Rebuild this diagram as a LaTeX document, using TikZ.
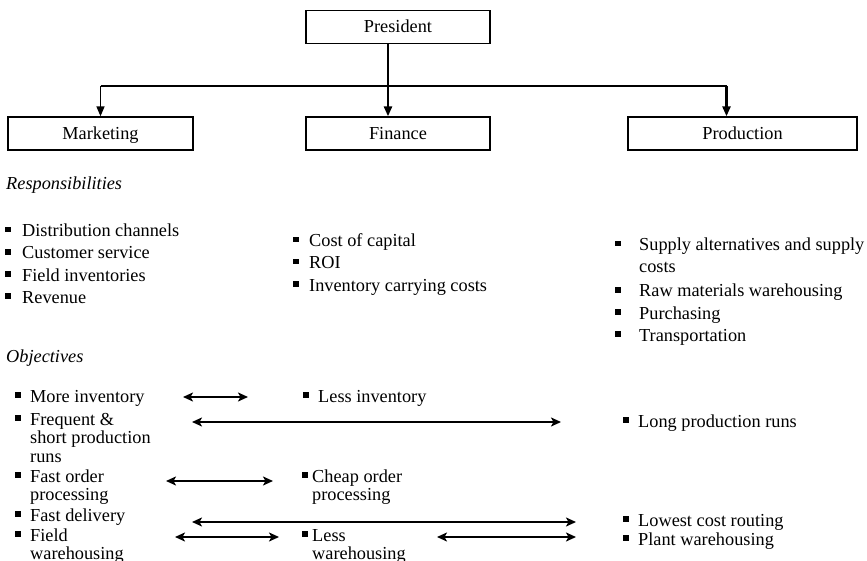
\documentclass[tikz,border=0pt]{standalone}
\usepackage{fontspec}
\setmainfont{Liberation Serif}
\usetikzlibrary{arrows.meta}

% bullet square, gap, then the item text (one or more lines)
\newcommand\bitem[2]{\rule[4.5pt]{5.5pt}{5.5pt}\hspace{#1}\begin{tabular}[t]{@{}l@{}}#2\end{tabular}}

\tikzset{
  unit/.style={draw, line width=1.3pt, inner sep=0pt, minimum height=33pt,
    text height=12pt, text depth=0pt,
    font=\fontsize{18.3}{22}\selectfont},
  tree/.style={line width=2.4pt},
  treehead/.style={-{Triangle[length=10pt,width=8pt]}},
  heading/.style={anchor=base west, inner sep=0pt,
    font=\fontsize{18.3}{22}\selectfont\itshape},
  resp/.style={anchor=base west, inner sep=0pt,
    font=\fontsize{18.3}{22}\selectfont},
  obj/.style={anchor=base west, inner sep=0pt,
    font=\fontsize{18.3}{18.5}\selectfont},
  tradeoff/.style={line width=2.4pt,
    {Stealth[length=10pt,width=9pt,inset=2.5pt]}-{Stealth[length=10pt,width=9pt,inset=2.5pt]}},
}

\begin{document}
\begin{tikzpicture}[x=1pt,y=-1pt]
\useasboundingbox (0,0) rectangle (867,561);

% organisation chart
\node[unit, minimum width=184pt] (pres) at (398,27)    {President};
\node[unit, minimum width=185pt] (mkt)  at (100.5,133.5) {Marketing};
\node[unit, minimum width=184pt] (fin)  at (398,133.5)   {Finance};
\node[unit, minimum width=229pt] (prod) at (742.5,133.5) {Production};

\coordinate (bus) at (398,86);
\coordinate (trunk) at ([xshift=-10pt]pres.south);
\coordinate (finin) at ([xshift=-10pt]fin.north);
\coordinate (prodin) at ([xshift=-16pt]prod.north);

\draw[tree, treehead] (trunk) -- (finin);
\draw[line width=1.6pt] (bus -| mkt.north) -- (bus -| prodin);
\draw[line width=1.6pt, treehead] (bus -| mkt.north) -- (mkt.north);
\draw[tree, treehead] (bus -| prodin) -- (prodin);

% responsibilities
\node[heading] (rh) at (6,190) {Responsibilities};

\node[resp] (m1) at (5,237) {\bitem{11.5pt}{Distribution channels}};
\node[resp] (m2) at (5,259) {\bitem{11.5pt}{Customer service}};
\node[resp] (m3) at (5,281) {\bitem{11.5pt}{Field inventories}};
\node[resp] (m4) at (5,303) {\bitem{11.5pt}{Revenue}};

\node[resp] (f1) at (293,247) {\bitem{10.5pt}{Cost of capital}};
\node[resp] (f2) at (293,269) {\bitem{10.5pt}{ROI}};
\node[resp] (f3) at (293,291) {\bitem{10.5pt}{Inventory carrying costs}};

\node[resp] (p1) at (615,251) {\bitem{18.5pt}{Supply alternatives and supply\\costs}};
\node[resp] (p2) at (615,297) {\bitem{18.5pt}{Raw materials warehousing}};
\node[resp] (p3) at (615,319) {\bitem{18.5pt}{Purchasing}};
\node[resp] (p4) at (615,341) {\bitem{18.5pt}{Transportation}};

% objectives and their trade-offs
\node[heading] (oh) at (6,362) {Objectives};

\node[obj] (o1) at (15,402) {\bitem{9.5pt}{More inventory}};
\node[obj] (o2) at (15,425) {\bitem{9.5pt}{Frequent \&\\short production\\runs}};
\node[obj] (o3) at (15,482) {\bitem{9.5pt}{Fast order\\processing}};
\node[obj] (o4) at (15,521) {\bitem{9.5pt}{Fast delivery}};
\node[obj] (o5) at (15,541) {\bitem{9.5pt}{Field\\warehousing}};

\node[obj] (c1) at (303,402) {\bitem{9.5pt}{Less inventory}};
\node[obj] (c3) at (302,482) {\bitem{4.5pt}{Cheap order\\processing}};
\node[obj] (c5) at (302,541) {\bitem{4.5pt}{Less\\warehousing}};

\node[obj] (r2) at (623,427) {\bitem{9.5pt}{Long production runs}};
\node[obj] (r4) at (623,526) {\bitem{9.5pt}{Lowest cost routing}};
\node[obj] (r5) at (623,545) {\bitem{9.5pt}{Plant warehousing}};

\coordinate (a1l) at (183,397); \coordinate (a1r) at (248,397);
\coordinate (a2l) at (192,422); \coordinate (a2r) at (561,422);
\coordinate (a3l) at (166,481); \coordinate (a3r) at (273,481);
\coordinate (a4l) at (192,522); \coordinate (a4r) at (576,522);
\coordinate (a5l) at (175,537); \coordinate (a5r) at (279,537);
\coordinate (a6l) at (437,537); \coordinate (a6r) at (576,537);

\draw[tradeoff] (a1l) -- (a1r);
\draw[tradeoff] (a2l) -- (a2r);
\draw[tradeoff] (a3l) -- (a3r);
\draw[tradeoff] (a4l) -- (a4r);
\draw[tradeoff] (a5l) -- (a5r);
\draw[tradeoff] (a6l) -- (a6r);
\end{tikzpicture}
\end{document}
